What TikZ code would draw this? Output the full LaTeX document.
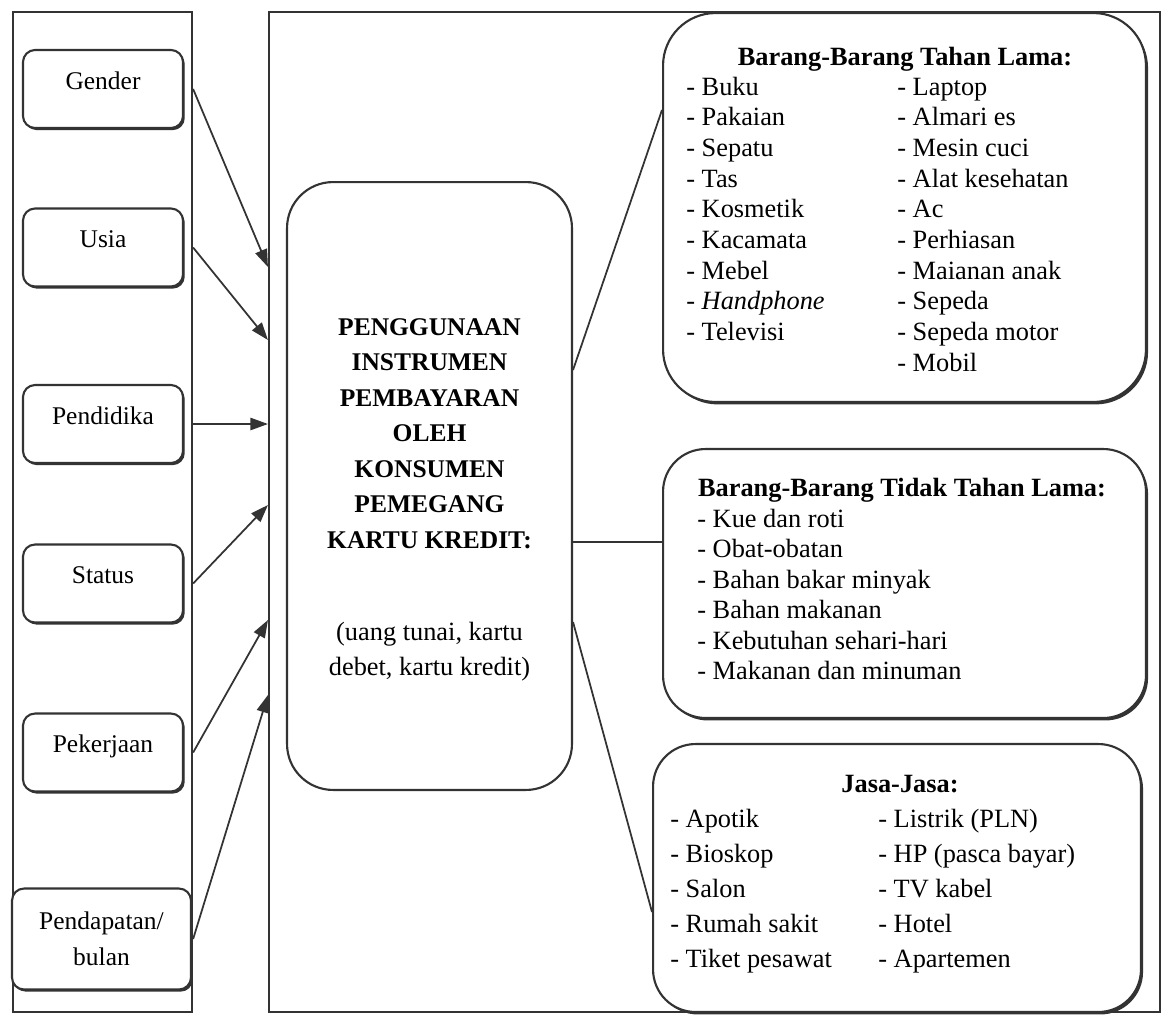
\documentclass[tikz,border=0pt]{standalone}
\usepackage{fontspec}
\setmainfont{Liberation Serif}
\usetikzlibrary{arrows.meta, shadows}

\tikzset{
  panel/.style={draw=black!80, line width=1.3pt, rectangle, inner sep=0pt},
  factor/.style={draw=black!80, line width=1.2pt, fill=white, rounded corners=0.24cm,
    minimum width=3.2cm, minimum height=1.56cm, align=center, font=\fontsize{14.5}{20.5}\selectfont,
    drop shadow={shadow xshift=1pt, shadow yshift=-1.2pt, fill=black!80, opacity=1}},
  oneline/.style={text height=1.5ex, text depth=1.5ex},
  catbox/.style={draw=black!80, line width=1.2pt, fill=white, rounded corners=0.85cm,
    minimum width=9.66cm, drop shadow={shadow xshift=1.2pt, shadow yshift=-1.4pt, fill=black!80, opacity=1}},
  entry/.style={anchor=base west, inner sep=0pt, font=\fontsize{15}{18}\selectfont},
  heading/.style={anchor=base, inner sep=0pt, font=\fontsize{15}{18}\selectfont\bfseries},
  remark/.style={anchor=base, inner sep=0pt, font=\fontsize{15}{18}\selectfont},
  link/.style={draw=black!80, line width=1pt},
  arr/.style={link, -{Triangle[length=10pt, width=7pt]}},
}

\begin{document}
\begin{tikzpicture}[x=0.02cm, y=-0.02cm]
  \useasboundingbox (0,0) rectangle (1169,1015);

  \node[panel, minimum width=3.58cm, minimum height=20cm] (column) at (102.5,512) {};
  \node[panel, minimum width=17.82cm, minimum height=20cm] (frame) at (714.5,512) {};

  \node[factor, oneline] (gender) at (103,89) {Gender};
  \node[factor, oneline] (usia) at (103,247.5) {Usia};
  \node[factor, oneline] (pendidika) at (103,424) {Pendidika};
  \node[factor, oneline] (status) at (103,583.5) {Status};
  \node[factor, oneline] (pekerjaan) at (103,752.5) {Pekerjaan};
  \node[factor, minimum width=3.58cm, minimum height=2.02cm] (pendapatan) at (101.5,939) {Pendapatan/\\bulan};

  \foreach \src/\y in {gender/267, usia/340, pendidika/424, status/505, pekerjaan/620, pendapatan/695}
    \draw[arr] (column.east |- \src) -- (frame.west |- 0,\y);

  \node[draw=black!80, line width=1.2pt, rounded corners=0.92cm, minimum width=5.7cm, minimum height=12.16cm] (usage) at (429.5,486) {};
  \foreach \t [count=\i from 0] in {PENGGUNAAN, INSTRUMEN, PEMBAYARAN, OLEH, KONSUMEN, PEMEGANG, KARTU KREDIT:}
    \node[heading, font=\fontsize{14.5}{18}\selectfont\bfseries] (u\i) at (429.5, 335+35.5*\i) {\t};
  \node[remark] (means1) at (429.5,640) {(uang tunai, kartu};
  \node[remark] (means2) at (429.5,675) {debet, kartu kredit)};

  \node[catbox, rounded corners=1.05cm, minimum height=7.78cm] (durable) at (904.5,207.5) {};
  \node[catbox, minimum height=5.38cm] (nondurable) at (904.5,583.5) {};
  \node[catbox, minimum width=9.76cm, minimum height=5.36cm] (services) at (897,878) {};

  \draw[link] (usage.east |- 0,370) -- (durable.west |- 0,110);
  \draw[link] (usage.east |- 0,542) -- (nondurable.west |- 0,542);
  \draw[link] (usage.east |- 0,622) -- (services.west |- 0,912);

  \node[heading] (durablehead) at (905,65) {Barang-Barang Tahan Lama:};
  \foreach \t [count=\i from 0] in {Buku, Pakaian, Sepatu, Tas, Kosmetik, Kacamata, Mebel, \textit{Handphone}, Televisi}
    \node[entry] (da\i) at (686, 95+30.7*\i) {- \t};
  \foreach \t [count=\i from 0] in {Laptop, Almari es, Mesin cuci, Alat kesehatan, Ac, Perhiasan, Maianan anak, Sepeda, Sepeda motor, Mobil}
    \node[entry] (db\i) at (897, 95+30.7*\i) {- \t};

  \node[heading] (nondurablehead) at (902,496) {Barang-Barang Tidak Tahan Lama:};
  \foreach \t [count=\i from 0] in {Kue dan roti, Obat-obatan, Bahan bakar minyak, Bahan makanan, Kebutuhan sehari-hari, Makanan dan minuman}
    \node[entry] (n\i) at (697, 527+30.5*\i) {- \t};

  \node[heading] (serviceshead) at (900,792) {Jasa-Jasa:};
  \foreach \t [count=\i from 0] in {Apotik, Bioskop, Salon, Rumah sakit, Tiket pesawat}
    \node[entry] (sa\i) at (670, 827+35*\i) {- \t};
  \foreach \t [count=\i from 0] in {{Listrik (PLN)}, {HP (pasca bayar)}, TV kabel, Hotel, Apartemen}
    \node[entry] (sb\i) at (878, 827+35*\i) {- \t};
\end{tikzpicture}
\end{document}
